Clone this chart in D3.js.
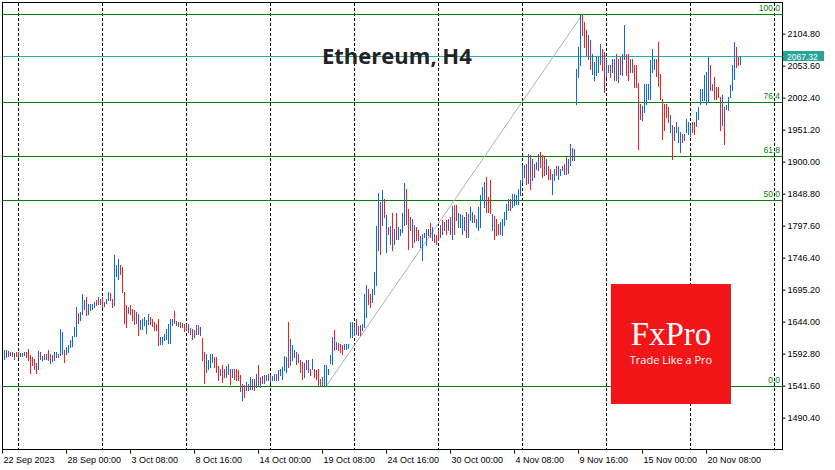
<!DOCTYPE html>
<html>
<head>
<meta charset="utf-8">
<script src="https://cdn.jsdelivr.net/npm/d3@7/dist/d3.min.js"></script>
<style>
    html, body { margin: 0; padding: 0; background: #fff; }
    #viz { width: 835px; height: 470px; }
</style>
</head>
<body>
<div id="viz"></div>
<script>
//Candles H4 (high / low / direction), 22 Sep 16:00 -> 23 Nov
const highs = [
    1599,1598,1597,1596,1595,1594,1596,1596,1594,1594,1595,1596,1600,1591,1588,1584,1578,1597,1596,1589,
    1593,1593,1599,1592,1591,1596,1595,1592,1633,1628,1599,1604,1607,1614,1621,1635,1668,1658,1660,1689,
    1679,1684,1672,1673,1673,1676,1679,1684,1681,1684,1676,1681,1692,1690,1681,1751,1735,1744,1735,1732,
    1692,1671,1667,1671,1665,1663,1660,1657,1647,1649,1652,1647,1656,1652,1649,1644,1641,1649,1619,1619,
    1624,1632,1640,1649,1648,1661,1645,1643,1644,1642,1640,1641,1641,1634,1632,1631,1639,1639,
    1636,1618,1596,1592,1583,1593,1592,1588,1587,1573,1568,1575,1569,1573,1577,1569,1568,1568,1568,1567,
    1559,1545,1543,1548,1545,1555,1553,1553,1561,1575,1556,1557,1558,1559,1560,1559,1557,1560,1561,1567,
    1568,1571,1589,1587,1644,1617,1607,1599,1596,1592,1583,1580,1578,1583,1583,1569,1584,1569,1567,1569,
    1553,1556,1575,1575,1569,1591,1620,1631,1612,1610,1609,1607,1609,1609,1609,1644,1644,1641,1648,1637,
    1639,1641,
    1689,1703,1697,1689,1697,1724,1797,1850,1836,1854,1841,1815,1796,1797,1818,1793,1818,1795,1793,1818,
    1866,1856,1825,1812,1809,1799,1796,1791,1781,1785,1786,1793,
    1792,1802,1796,1785,1783,
    1791,1799,1807,1804,1807,1809,1811,1829,1831,1831,1818,1816,1815,1812,1820,1816,1828,1820,1815,1809,
    1828,1847,1860,1868,1876,1844,1871,1817,1813,1809,1801,1804,1809,1820,1833,1841,1841,1849,1848,1847,
    1857,1871,
    1895,1895,1897,1912,1911,1904,1897,1900,1912,1916,1911,1908,1905,1893,1889,1881,1889,1893,1893,1889,
    1893,1897,1907,1905,1929,1922,1921,2049,2084,2136,2135,2124,2111,2103,2095,2073,2060,2068,2068,2089,
    2080,2076,2065,2055,2055,2065,2065,2073,2065,2068,2073,2119,2073,2072,2065,2064,2055,2055,2026,1992,
    1989,2025,2025,2025,2063,2081,2065,2065,2092,2041,2001,1993,1992,1987,1975,1959,1956,1964,1955,1948,
    1945,1945,1969,1964,1959,1964,1964,1980,1988,2016,2016,2039,2044,2068,2055,2025,2035,2020,2019,2004,
    2007,1988,1991,2004,2023,2055,2092,2084,2068,2069
];
const lows = [
    1585,1588,1589,1590,1589,1585,1589,1587,1589,1589,1590,1588,1583,1562,1575,1569,1562,1569,1585,1583,
    1585,1584,1583,1578,1581,1583,1588,1588,1590,1592,1580,1592,1596,1603,1605,1621,1621,1642,1647,1656,
    1665,1655,1657,1663,1664,1668,1671,1672,1673,1668,1669,1674,1679,1678,1667,1671,1717,1713,1721,1692,
    1642,1636,1658,1657,1647,1641,1642,1623,1633,1633,1639,1626,1641,1641,1637,1631,1630,1607,1608,1608,
    1615,1616,1610,1610,1639,1642,1639,1637,1635,1636,1629,1631,1628,1625,1617,1619,1625,1624,
    1623,1583,1546,1564,1569,1572,1580,1572,1564,1551,1559,1548,1556,1555,1561,1545,1556,1553,1551,1551,
    1533,1519,1524,1535,1535,1537,1537,1535,1540,1543,1540,1546,1546,1550,1551,1548,1550,1551,1551,1551,
    1559,1553,1567,1564,1571,1575,1583,1588,1577,1580,1564,1552,1556,1568,1564,1559,1569,1556,1553,1542,
    1542,1542,1542,1542,1560,1578,1577,1599,1601,1599,1596,1593,1601,1601,1602,1619,1620,1623,1625,1623,
    1623,1630,
    1636,1652,1673,1668,1676,1689,1703,1759,1753,1799,1812,1756,1785,1769,1759,1769,1777,1777,1783,1788,
    1799,1801,1761,1791,1764,1772,1775,1775,1763,1743,1780,1767,
    1783,1780,1775,1772,1769,
    1775,1780,1785,1791,1785,1791,1785,1777,1785,1807,1796,1796,1785,1791,1780,1780,1807,1804,1804,1796,
    1791,1796,1839,1828,1820,1820,1818,1791,1777,1783,1785,1785,1783,1799,1809,1823,1823,1828,1831,1833,
    1833,1847,
    1868,1876,1865,1866,1857,1871,1876,1889,1887,1892,1876,1879,1881,1873,1873,1849,1871,1879,1872,1879,
    1887,1881,1881,1882,1895,1903,1903,1993,2036,2055,2103,2084,2071,2064,2049,2041,2030,2039,2044,2057,
    2047,2012,2036,2044,2036,2044,2031,2031,2028,2041,2039,2065,2039,2031,2044,2044,2020,2019,1921,1969,
    1967,1980,1993,2000,2001,2044,2049,2037,2021,2001,1937,1951,1972,1964,1948,1905,1935,1948,1932,1916,
    1932,1935,1948,1945,1941,1948,1945,1957,1969,1993,1999,1999,1993,1996,2015,2015,2001,2000,2004,1951,
    1959,1928,1984,1983,2003,2015,2033,2052,2055,2056
];
//u = bullish (blue), d = bearish (red)
const dirs = (
    "uudududduu" + "uddddddudu" + "udduduuduu" + "duuuuuuduu" + "uduuuududd" +
    "uuudduuudd" + "dduddduduu" + "uuuddddduu" + "uuuuududdu" + "ddududud" +
    "udduuuuddd" + "udduududdd" + "dududuudud" + "uduuduuudu" + "uuuuduuudu" +
    "ddudududdd" + "duuuuuudud" + "dduuuuuudu" + "du" +
    "uudduuuudu" + "dudududuuu" + "uddududduu" + "du" +
    "ududd" +
    "dududududd" + "uuuuduuudu" + "uuuudddudd" + "duuuuuduuu" + "uu" +
    "uudududuud" + "ddudduuduu" + "duduuduuuu" + "ddduduuuuu" + "dduuduudud" +
    "uudduddddd" + "uuuuuuuddd" + "dddduduuuu" + "duuuudduuu" + "uuuududddd" +
    "uduuuuuddu"
).split("");

//Ejes
const priceTicks = [1490.4, 1541.6, 1592.8, 1644.0, 1695.2, 1746.4, 1797.6, 1848.8, 1900.0, 1951.2, 2002.4, 2053.6, 2104.8];
const timeTicks = [-1, 31, 63, 95, 127, 159, 191, 223, 255, 287, 319, 351];
const timeLabels = ["22 Sep 2023", "28 Sep 00:00", "3 Oct 08:00", "8 Oct 16:00", "14 Oct 00:00", "19 Oct 08:00",
    "24 Oct 16:00", "30 Oct 00:00", "4 Nov 08:00", "9 Nov 16:00", "15 Nov 00:00", "20 Nov 08:00"];

//Fibonacci
const fibLevels = [0, 50, 61.8, 76.4, 100];
const fibLabels = ["0.0", "50.0", "61.8", "76.4", "100.0"];
const fibLow = 1541.6, fibHigh = 2135.8;
const fibFrom = 161, fibTo = 289;
const lastPrice = 2067.32;

//Colores
const COLOR_UP = '#0a64ff',
    COLOR_DOWN = '#ff1a1a',
    COLOR_FIB = '#008000',
    COLOR_LAST = '#20b2aa',
    COLOR_TAG = '#26a69a',
    COLOR_LOGO = '#f21618';

let W = 835, H = 470;
let plot = {left: 2.5, right: 782.5, top: 2.5, bottom: 449.5};

let svg = d3.select("#viz")
    .append("svg")
    .attr("width", W)
    .attr("height", H)
    .style("font-family", "'Liberation Sans', Arial, sans-serif");

svg.append("rect").attr("width", W).attr("height", H).attr("fill", "#fff");

let x = d3.scaleLinear()
    .domain([0, 368])
    .range([4, 740]);

let y = d3.scaleLinear()
    .domain([1440.3, 2155.5])
    .range([449, 2]);

//Grid vertical (cada 42 velas)
let gridIdx = d3.range(7, 390, 42);
svg.append("g")
    .selectAll("line")
    .data(gridIdx)
    .enter()
    .append("line")
    .attr("x1", d => x(d) + 0.5)
    .attr("x2", d => x(d) + 0.5)
    .attr("y1", 3)
    .attr("y2", 449)
    .attr("stroke", "#000")
    .attr("stroke-dasharray", "3,2")
    .attr("shape-rendering", "crispEdges");

//Niveles fibo
let fibPrice = l => fibLow + (fibHigh - fibLow) * l / 100;

svg.append("g")
    .selectAll("line")
    .data(fibLevels)
    .enter()
    .append("line")
    .attr("x1", plot.left)
    .attr("x2", plot.right)
    .attr("y1", d => Math.round(y(fibPrice(d))) + 0.5)
    .attr("y2", d => Math.round(y(fibPrice(d))) + 0.5)
    .attr("stroke", COLOR_FIB)
    .attr("shape-rendering", "crispEdges");

//Linea del precio actual
let ly = Math.round(y(lastPrice)) - 0.5;
svg.append("line")
    .attr("x1", plot.left)
    .attr("x2", plot.right)
    .attr("y1", ly)
    .attr("y2", ly)
    .attr("stroke", COLOR_LAST)
    .attr("shape-rendering", "crispEdges");

//Diagonal fibo
svg.append("line")
    .attr("x1", x(fibFrom) + 0.5)
    .attr("y1", y(fibLow))
    .attr("x2", x(fibTo) + 0.5)
    .attr("y2", y(fibHigh))
    .attr("stroke", "#b0b0b0")
    .attr("stroke-width", 1);

//Velas
svg.append("g")
    .selectAll("rect")
    .data(highs)
    .enter()
    .append("rect")
    .attr("x", (d, i) => x(i))
    .attr("y", d => Math.round(y(d)))
    .attr("width", 1)
    .attr("height", (d, i) => Math.max(1, Math.round(y(lows[i])) - Math.round(y(d)) + 1))
    .attr("fill", (d, i) => dirs[i] == 'u' ? COLOR_UP : COLOR_DOWN)
    .attr("shape-rendering", "crispEdges");

//Etiquetas fibo
svg.append("g")
    .selectAll("text")
    .data(fibLevels)
    .enter()
    .append("text")
    .attr("x", 780)
    .attr("y", d => Math.round(y(fibPrice(d))) - 3)
    .attr("text-anchor", "end")
    .attr("font-size", 8.5)
    .attr("fill", COLOR_FIB)
    .text((d, i) => fibLabels[i]);

//Marco
svg.append("rect")
    .attr("x", plot.left)
    .attr("y", plot.top)
    .attr("width", plot.right - plot.left)
    .attr("height", plot.bottom - plot.top)
    .attr("fill", "none")
    .attr("stroke", "#000")
    .attr("shape-rendering", "crispEdges");

//Eje Y
svg.append("g")
    .attr("transform", "translate(" + plot.right + ",0)")
    .call(d3.axisRight(y).tickValues(priceTicks).tickSize(3).tickPadding(2).tickFormat(d3.format(".2f")))
    .call(g => g.select(".domain").remove())
    .call(g => g.selectAll("text").attr("font-size", 9).attr("font-family", "'Liberation Sans', Arial, sans-serif").attr("fill", "#000"));

//Eje X
svg.append("g")
    .attr("transform", "translate(0," + plot.bottom + ")")
    .call(d3.axisBottom(x).tickValues(timeTicks).tickSize(4).tickPadding(3).tickFormat((d, i) => timeLabels[i]))
    .call(g => g.select(".domain").remove())
    .call(g => g.selectAll("text")
        .attr("text-anchor", "start")
        .attr("x", 1)
        .attr("font-size", 9)
        .attr("font-family", "'Liberation Sans', Arial, sans-serif")
        .attr("fill", "#000"));

//Etiqueta precio actual
svg.append("rect")
    .attr("x", 783)
    .attr("y", ly - 5.5)
    .attr("width", 41)
    .attr("height", 10)
    .attr("fill", COLOR_TAG);
svg.append("text")
    .attr("x", 787)
    .attr("y", ly + 3)
    .attr("font-size", 8.5)
    .attr("fill", "#fff")
    .text(d3.format(".2f")(lastPrice));

//Titulo
svg.append("text")
    .attr("x", 322)
    .attr("y", 64)
    .attr("font-family", "'Open Sans', sans-serif")
    .attr("font-weight", "bold")
    .attr("font-size", 22)
    .attr("fill", "#222")
    .text("Ethereum, H4");

//Logo FxPro
let logo = svg.append("g").attr("transform", "translate(611,284)");
logo.append("rect")
    .attr("width", 120)
    .attr("height", 120)
    .attr("fill", COLOR_LOGO);
logo.append("text")
    .attr("x", 60)
    .attr("y", 61)
    .attr("text-anchor", "middle")
    .attr("font-family", "'Liberation Serif', 'DejaVu Serif', serif")
    .attr("font-size", 33)
    .attr("fill", "#fff")
    .text("FxPro");
logo.append("text")
    .attr("x", 60)
    .attr("y", 80)
    .attr("text-anchor", "middle")
    .attr("font-family", "'Open Sans', sans-serif")
    .attr("font-size", 11)
    .attr("fill", "#fff")
    .text("Trade Like a Pro");
</script>
</body>
</html>
